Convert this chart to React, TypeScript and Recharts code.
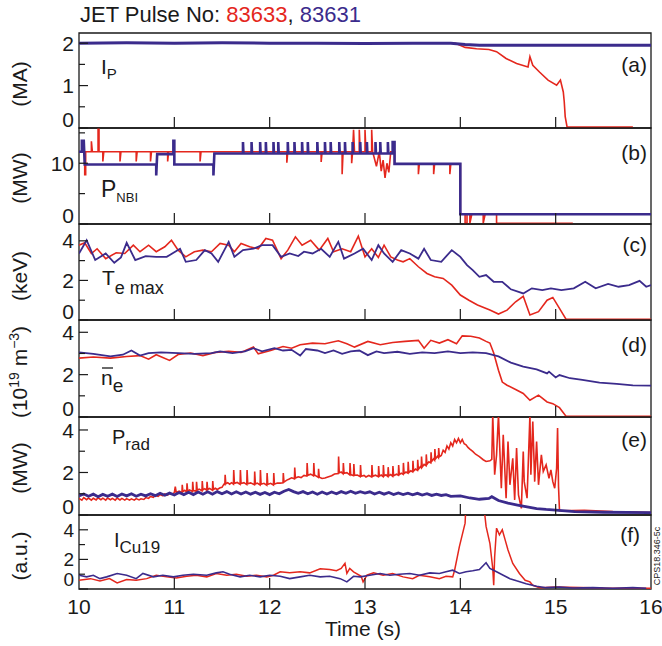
import React from 'react';
import { LineChart, Line, XAxis, YAxis, ReferenceArea } from 'recharts';

const RED = '#e4271d';
const BLUE = '#3b2b8c';
const INK = '#1a1a1a';
const FONT = '"Liberation Sans", Arial, Helvetica, sans-serif';

type Pt = [number, number];

const timeTicks = [10, 11, 12, 13, 14, 15, 16];

// (a) plasma current, MA
const ipRed: Pt[] = [
  [10, 2.0], [11, 2.0], [12, 2.0], [13, 2.0], [13.95, 2.0], [14.05, 1.9], [14.17, 1.87], [14.3, 1.85],
  [14.38, 1.8], [14.48, 1.64], [14.59, 1.52], [14.71, 1.44], [14.73, 1.68], [14.76, 1.48], [14.83, 1.32],
  [14.92, 1.13], [15.01, 1.01], [15.05, 1.13], [15.08, 0.85], [15.09, 0.62], [15.1, 0.27], [15.12, 0.02],
  [15.81, 0.02],
];
const ipBlue: Pt[] = [
  [10, 2.0], [10.5, 2.01], [11, 2.0], [11.5, 2.01], [12, 2.0], [12.5, 2.0], [13, 1.99], [13.5, 2.0],
  [13.9, 2.0], [14.05, 1.97], [14.2, 1.95], [14.5, 1.95], [15, 1.95], [15.5, 1.95], [16, 1.95],
];

// (b) neutral beam power, MW
const nbiRed: Pt[] = [
  [10, 11.9], [10.06, 11.9], [10.06, 8.1], [10.07, 8.1], [10.07, 11.9], [10.13, 11.9], [10.13, 13.6],
  [10.14, 11.9], [10.2, 11.9], [10.2, 15.6], [10.21, 15.6], [10.21, 11.9], [10.25, 11.9], [10.25, 10.3],
  [10.26, 11.9], [10.43, 11.9], [10.43, 10.3], [10.44, 11.9], [10.6, 11.9], [10.6, 10.3], [10.61, 11.9],
  [10.75, 11.9], [10.75, 10.3], [10.76, 11.9], [10.93, 11.9], [10.93, 10.3], [10.94, 11.9],
  [11.27, 11.9], [11.27, 10.3], [11.28, 11.9], [12.18, 11.9], [12.18, 10.1], [12.19, 11.9],
  [12.54, 11.9], [12.54, 10.2], [12.55, 11.9], [12.76, 11.9], [12.76, 8.2], [12.77, 11.9],
  [12.86, 11.9], [12.86, 10.0], [12.87, 11.9], [12.88, 15.5], [12.89, 11.9], [12.94, 11.9],
  [12.94, 15.5], [12.95, 11.9], [13.0, 11.9], [13.0, 15.5], [13.01, 11.9], [13.07, 11.9],
  [13.07, 15.5], [13.08, 11.9], [13.12, 9.5], [13.15, 11.9], [13.17, 8.7], [13.19, 10.5],
  [13.21, 7.6], [13.23, 10.0], [13.25, 8.5], [13.27, 11.9], [13.31, 11.9], [13.31, 9.9],
  [13.56, 9.9], [13.56, 8.2], [13.57, 9.9], [13.72, 9.9], [13.72, 8.2], [13.73, 9.9], [13.89, 9.9],
  [13.89, 8.2], [13.9, 9.9], [14.0, 9.9], [14.0, 1.6], [14.05, 1.6], [14.05, 0.1], [14.07, 0.1],
  [14.07, 1.6], [14.1, 1.6], [14.1, 0.1], [14.12, 1.6], [14.24, 1.6], [14.24, 0.1], [14.26, 1.6],
  [14.38, 1.6], [14.38, 0.1], [15.18, 0.1],
];
const nbiBlue: Pt[] = [
  [10, 11.9], [10.03, 11.9], [10.03, 13.7], [10.05, 13.7], [10.06, 9.8], [10.81, 9.8], [10.81, 8.0],
  [10.82, 11.5], [10.99, 11.5], [10.99, 13.7], [11.0, 13.7], [11.0, 9.8], [11.41, 9.8], [11.41, 8.0],
  [11.42, 11.6], [11.72, 11.6], [11.72, 13.5], [11.725, 11.6], [11.81, 11.6], [11.81, 13.5],
  [11.815, 11.6], [11.9, 11.6], [11.9, 13.5], [11.905, 11.6], [11.96, 11.6], [11.96, 13.5],
  [11.965, 11.6], [12.04, 11.6], [12.04, 13.5], [12.045, 11.6], [12.09, 11.6], [12.09, 13.5],
  [12.095, 11.6], [12.19, 11.6], [12.19, 13.5], [12.195, 11.6], [12.26, 11.6], [12.26, 13.5],
  [12.265, 11.6], [12.34, 11.6], [12.34, 13.5], [12.345, 11.6], [12.4, 11.6], [12.4, 13.5],
  [12.405, 11.6], [12.5, 11.6], [12.5, 13.5], [12.505, 11.6], [12.58, 11.6], [12.58, 13.5],
  [12.585, 11.6], [12.64, 11.6], [12.64, 13.5], [12.645, 11.6], [12.73, 11.6], [12.73, 13.5],
  [12.735, 11.6], [12.79, 11.6], [12.79, 13.5], [12.795, 11.6], [12.87, 11.6], [12.87, 13.5],
  [12.875, 11.6], [12.95, 11.6], [12.95, 13.5], [12.955, 11.6], [13.02, 11.6], [13.02, 13.5],
  [13.025, 11.6], [13.11, 11.6], [13.11, 13.5], [13.115, 11.6], [13.16, 11.6], [13.16, 13.5],
  [13.165, 11.6], [13.24, 11.6], [13.24, 13.5], [13.245, 11.6], [13.29, 11.6], [13.29, 13.5],
  [13.31, 13.5], [13.31, 9.9], [14.0, 9.9], [14.0, 1.6], [16, 1.6],
];

// (c) peak electron temperature, keV
const teRed: Pt[] = [
  [10.0, 3.78], [10.06, 3.9], [10.13, 3.36], [10.19, 3.6], [10.28, 3.1], [10.39, 3.4], [10.48, 3.36],
  [10.57, 3.78], [10.64, 3.45], [10.73, 3.78], [10.81, 3.45], [10.9, 3.7], [10.97, 4.03], [11.04, 3.53],
  [11.12, 3.19], [11.21, 3.45], [11.3, 3.53], [11.39, 3.45], [11.48, 3.87], [11.57, 3.78], [11.63, 3.45],
  [11.7, 3.87], [11.79, 3.7], [11.88, 3.6], [11.96, 4.12], [12.03, 4.03], [12.12, 3.1], [12.19, 3.53],
  [12.27, 4.2], [12.34, 3.78], [12.43, 4.03], [12.52, 3.53], [12.61, 4.12], [12.67, 3.45], [12.76, 3.6],
  [12.85, 3.45], [12.93, 4.24], [13.0, 3.19], [13.07, 3.6], [13.14, 3.16], [13.2, 3.78], [13.27, 3.19],
  [13.34, 3.03], [13.4, 2.94], [13.47, 3.1], [13.56, 2.69], [13.65, 2.35], [13.73, 2.18], [13.82, 2.1],
  [13.91, 1.76], [14.0, 1.26], [14.09, 1.0], [14.18, 0.76], [14.31, 0.5], [14.4, 0.3], [14.49, 0.5],
  [14.58, 0.92], [14.66, 1.2], [14.73, 0.25], [14.82, 0.42], [14.91, 1.0], [14.97, 1.14], [15.04, 0.59],
  [15.11, 0.03], [16, 0.03],
];
const teBlue: Pt[] = [
  [10.0, 3.36], [10.08, 4.03], [10.17, 3.03], [10.28, 3.36], [10.37, 2.89], [10.44, 3.16], [10.5, 3.9],
  [10.59, 3.03], [10.7, 3.23], [10.81, 3.19], [10.92, 3.19], [11.06, 3.6], [11.12, 2.94], [11.23, 3.03],
  [11.32, 3.53], [11.39, 3.36], [11.46, 2.94], [11.57, 3.95], [11.63, 3.19], [11.72, 3.53], [11.83, 3.6],
  [11.92, 3.78], [12.03, 3.78], [12.12, 3.19], [12.21, 3.36], [12.3, 3.23], [12.36, 3.45], [12.45, 3.36],
  [12.54, 3.6], [12.63, 3.19], [12.72, 3.95], [12.78, 3.1], [12.89, 3.36], [12.98, 3.6], [13.07, 3.03],
  [13.14, 3.78], [13.2, 3.36], [13.29, 2.94], [13.38, 3.53], [13.47, 3.36], [13.56, 3.1], [13.62, 3.6],
  [13.69, 3.03], [13.8, 2.94], [13.91, 3.53], [14.0, 3.19], [14.07, 2.77], [14.13, 2.52], [14.2, 2.18],
  [14.27, 2.27], [14.35, 1.93], [14.44, 1.93], [14.53, 1.55], [14.66, 1.34], [14.75, 1.6], [14.86, 1.51],
  [14.95, 1.6], [15.06, 1.51], [15.19, 1.6], [15.31, 1.93], [15.42, 1.6], [15.55, 1.82], [15.66, 1.68],
  [15.77, 1.76], [15.88, 1.98], [15.95, 1.68], [16.0, 1.76],
];

// (d) line-averaged density, 10^19 m^-3
const neRed: Pt[] = [
  [10.0, 2.78], [10.15, 2.83], [10.33, 2.78], [10.5, 2.86], [10.64, 2.9], [10.73, 2.73], [10.81, 2.94],
  [10.95, 2.67], [11.04, 2.95], [11.17, 3.02], [11.3, 2.9], [11.43, 3.05], [11.57, 3.1], [11.7, 3.05],
  [11.83, 3.3], [11.88, 2.98], [12.01, 3.14], [12.14, 3.33], [12.23, 3.25], [12.32, 3.41], [12.45, 3.49],
  [12.58, 3.46], [12.72, 3.6], [12.81, 3.46], [12.89, 3.3], [13.03, 3.57], [13.16, 3.41], [13.29, 3.52],
  [13.42, 3.57], [13.56, 3.62], [13.62, 3.25], [13.69, 3.62], [13.78, 3.49], [13.87, 3.65], [13.96, 3.46],
  [14.02, 3.83], [14.11, 3.81], [14.2, 3.73], [14.27, 3.57], [14.31, 3.49], [14.35, 3.02], [14.4, 2.21],
  [14.44, 1.65], [14.49, 1.5], [14.58, 1.3], [14.66, 1.11], [14.73, 0.79], [14.82, 1.03], [14.91, 0.71],
  [14.97, 0.63], [15.04, 0.44], [15.11, 0.03], [16, 0.03],
];
const neBlue: Pt[] = [
  [10.0, 3.05], [10.15, 2.98], [10.33, 2.86], [10.46, 2.94], [10.55, 3.14], [10.64, 2.9], [10.73, 3.02],
  [10.86, 3.05], [11.04, 3.02], [11.21, 2.98], [11.39, 3.02], [11.48, 3.1], [11.61, 3.02], [11.74, 3.1],
  [11.83, 3.25], [11.92, 3.1], [12.05, 3.25], [12.14, 3.14], [12.23, 3.17], [12.32, 2.9], [12.38, 3.21],
  [12.5, 3.14], [12.58, 3.02], [12.67, 3.14], [12.76, 2.98], [12.85, 3.1], [12.94, 3.14], [13.03, 2.92],
  [13.12, 3.1], [13.2, 3.02], [13.34, 3.08], [13.47, 2.98], [13.6, 3.05], [13.73, 3.02], [13.87, 3.1],
  [14.0, 3.02], [14.13, 3.05], [14.27, 3.02], [14.4, 2.86], [14.53, 2.57], [14.66, 2.38], [14.8, 2.25],
  [14.91, 2.06], [14.93, 2.14], [15.0, 1.87], [15.04, 1.98], [15.15, 1.83], [15.28, 1.75], [15.46, 1.62],
  [15.64, 1.56], [15.81, 1.49], [16.0, 1.48],
];

// (e) radiated power, MW
const pradRed: Pt[] = [
  [10.0, 0.78], [10.03, 0.7], [10.05, 0.82], [10.08, 0.72], [10.1, 0.8], [10.13, 0.7], [10.15, 0.79],
  [10.18, 0.71], [10.2, 0.81], [10.23, 0.72], [10.25, 0.79], [10.28, 0.7], [10.3, 0.8], [10.33, 0.72],
  [10.35, 0.78], [10.38, 0.7], [10.4, 0.8], [10.43, 0.71], [10.45, 0.78], [10.48, 0.7], [10.5, 0.77],
  [10.53, 0.7], [10.55, 0.76], [10.58, 0.7], [10.6, 0.77], [10.63, 0.71], [10.65, 0.76], [10.68, 0.73],
  [10.7, 0.82], [10.73, 0.78], [10.75, 0.87], [10.78, 0.83], [10.8, 0.92], [10.83, 0.88], [10.85, 0.96],
  [10.88, 0.9], [10.9, 0.99], [10.93, 0.94], [10.95, 1.03], [10.98, 0.98], [11.0, 1.05],
  [11.01, 1.34], [11.02, 1.06], [11.05, 1.12], [11.08, 1.06], [11.083, 1.42], [11.09, 1.1], [11.11, 1.16],
  [11.13, 1.08], [11.133, 1.49], [11.14, 1.12], [11.16, 1.18], [11.19, 1.1], [11.193, 1.56], [11.2, 1.15],
  [11.23, 1.12], [11.233, 1.56], [11.24, 1.17], [11.26, 1.22], [11.29, 1.14], [11.293, 1.6], [11.3, 1.18],
  [11.32, 1.24], [11.34, 1.16], [11.343, 1.56], [11.35, 1.2], [11.37, 1.25], [11.4, 1.16], [11.403, 1.6],
  [11.41, 1.2], [11.43, 1.26], [11.45, 1.2], [11.48, 1.28], [11.5, 1.3], [11.52, 1.45], [11.53, 1.43],
  [11.533, 1.89], [11.54, 1.47], [11.56, 1.52], [11.58, 1.45], [11.6, 1.52], [11.62, 1.45],
  [11.623, 2.12], [11.63, 1.49], [11.66, 1.53], [11.69, 1.44], [11.693, 2.12], [11.7, 1.48], [11.73, 1.52],
  [11.76, 1.43], [11.763, 2.12], [11.77, 1.47], [11.8, 1.51], [11.84, 1.42], [11.843, 2.04], [11.85, 1.46],
  [11.87, 1.5], [11.9, 1.41], [11.903, 2.12], [11.91, 1.45], [11.94, 1.49], [11.97, 1.4], [11.973, 1.97],
  [11.98, 1.44], [12.01, 1.49], [12.04, 1.41], [12.043, 1.97], [12.05, 1.45], [12.08, 1.5], [12.11, 1.5],
  [12.14, 1.52], [12.143, 1.97], [12.15, 1.55], [12.18, 1.64], [12.2, 1.68], [12.23, 1.75], [12.26, 1.7],
  [12.263, 2.23], [12.27, 1.74], [12.3, 1.8], [12.33, 1.76], [12.36, 1.86], [12.39, 1.83], [12.393, 2.44],
  [12.4, 1.87], [12.43, 1.92], [12.46, 1.84], [12.463, 2.44], [12.47, 1.88], [12.49, 1.83], [12.51, 1.77],
  [12.513, 2.17], [12.52, 1.78], [12.55, 1.72], [12.58, 1.74], [12.61, 1.79], [12.65, 1.85], [12.68, 1.93],
  [12.72, 1.95], [12.723, 2.75], [12.73, 1.98], [12.75, 2.02], [12.77, 1.94], [12.773, 2.44], [12.78, 1.96],
  [12.81, 1.99], [12.84, 1.89], [12.843, 2.44], [12.85, 1.9], [12.88, 1.85], [12.883, 2.4], [12.89, 1.87],
  [12.92, 1.88], [12.95, 1.8], [12.953, 2.35], [12.96, 1.82], [12.99, 1.86], [13.01, 1.79], [13.04, 1.86],
  [13.07, 1.79], [13.073, 2.35], [13.08, 1.82], [13.11, 1.87], [13.14, 1.8], [13.143, 2.3], [13.15, 1.83],
  [13.17, 1.88], [13.19, 1.81], [13.193, 2.35], [13.2, 1.84], [13.22, 1.89], [13.24, 1.81], [13.243, 2.25],
  [13.25, 1.84], [13.27, 1.9], [13.29, 1.82], [13.293, 2.3], [13.3, 1.85], [13.33, 1.92], [13.35, 1.87],
  [13.353, 2.35], [13.36, 1.9], [13.38, 1.97], [13.4, 1.91], [13.403, 2.45], [13.41, 1.95], [13.43, 2.02],
  [13.45, 1.97], [13.453, 2.5], [13.46, 2.0], [13.48, 2.08], [13.5, 2.03], [13.503, 2.55], [13.51, 2.07],
  [13.53, 2.16], [13.55, 2.1], [13.553, 2.6], [13.56, 2.15], [13.58, 2.27], [13.59, 2.22], [13.593, 2.75],
  [13.6, 2.26], [13.62, 2.38], [13.64, 2.32], [13.643, 2.85], [13.65, 2.38], [13.67, 2.5], [13.69, 2.45],
  [13.693, 2.95], [13.7, 2.52], [13.72, 2.64], [13.73, 2.58], [13.733, 3.1], [13.74, 2.64], [13.76, 2.76],
  [13.77, 2.7], [13.773, 3.15], [13.78, 2.74], [13.8, 2.8], [13.82, 3.05], [13.84, 2.95], [13.86, 3.25],
  [13.88, 3.1], [13.9, 3.4], [13.92, 3.25], [13.94, 3.55], [13.96, 3.4], [13.98, 3.6], [14.0, 3.4],
  [14.02, 3.55], [14.04, 3.35], [14.06, 3.3], [14.08, 3.18], [14.1, 3.1], [14.13, 2.99], [14.16, 2.86],
  [14.2, 2.75], [14.24, 2.6], [14.27, 2.52], [14.31, 2.55], [14.33, 2.62], [14.34, 4.7], [14.36, 1.9],
  [14.38, 2.83], [14.4, 4.7], [14.43, 1.26], [14.45, 3.77], [14.48, 0.79], [14.5, 3.46], [14.52, 1.42],
  [14.55, 2.67], [14.57, 0.71], [14.59, 3.15], [14.61, 0.94], [14.64, 0.31], [14.66, 2.99], [14.67, 1.57],
  [14.7, 0.79], [14.73, 4.7], [14.74, 1.89], [14.76, 4.4], [14.78, 1.57], [14.8, 3.46], [14.82, 1.42],
  [14.85, 2.83], [14.87, 2.05], [14.9, 2.36], [14.93, 1.73], [14.95, 2.12], [14.97, 1.57], [14.99, 1.26],
  [15.01, 2.2], [15.02, 4.09], [15.03, 1.34], [15.04, 0.2], [15.3, 0.22], [15.6, 0.16], [16.0, 0.12],
];
const pradBlue: Pt[] = [
  [10.0, 0.9], [10.05, 0.99], [10.1, 0.88], [10.15, 0.98], [10.2, 0.86], [10.25, 0.97], [10.3, 0.88],
  [10.35, 0.98], [10.4, 0.87], [10.45, 0.99], [10.5, 0.9], [10.55, 1.0], [10.6, 0.88], [10.65, 0.98],
  [10.7, 0.9], [10.75, 1.0], [10.8, 0.91], [10.85, 1.02], [10.9, 0.93], [10.95, 1.03], [11.0, 0.94],
  [11.05, 1.06], [11.1, 0.96], [11.15, 1.07], [11.2, 0.96], [11.25, 1.08], [11.3, 0.98], [11.35, 1.09],
  [11.4, 0.98], [11.45, 1.1], [11.5, 1.0], [11.55, 1.1], [11.6, 0.99], [11.65, 1.09], [11.7, 0.99],
  [11.75, 1.08], [11.8, 0.98], [11.85, 1.07], [11.9, 0.97], [11.95, 1.06], [12.0, 0.96], [12.05, 1.07],
  [12.1, 1.0], [12.15, 1.12], [12.2, 1.2], [12.25, 1.1], [12.3, 1.02], [12.35, 1.1], [12.4, 1.0],
  [12.45, 1.08], [12.5, 0.98], [12.55, 1.08], [12.6, 0.99], [12.65, 1.08], [12.7, 1.0], [12.75, 1.1],
  [12.8, 1.02], [12.85, 1.12], [12.9, 1.02], [12.95, 1.1], [13.0, 1.03], [13.05, 1.09], [13.1, 0.99],
  [13.15, 1.07], [13.2, 0.98], [13.25, 1.06], [13.3, 0.96], [13.35, 1.04], [13.4, 0.96], [13.45, 1.03],
  [13.5, 0.95], [13.55, 1.02], [13.6, 0.94], [13.65, 1.0], [13.7, 0.92], [13.75, 0.98], [13.8, 0.92],
  [13.85, 0.96], [13.9, 0.88], [14.0, 0.9], [14.1, 0.8], [14.2, 0.74], [14.3, 0.78], [14.33, 0.86],
  [14.4, 0.68], [14.5, 0.56], [14.6, 0.47], [14.7, 0.38], [14.8, 0.3], [14.9, 0.26], [15.0, 0.23],
  [15.2, 0.16], [15.5, 0.13], [16.0, 0.11],
];

// (f) Cu XIX line intensity, a.u.
const cuRed: Pt[] = [
  [10.0, 0.59], [10.12, 0.7], [10.22, 0.55], [10.32, 0.7], [10.4, 0.41], [10.5, 0.64], [10.6, 0.59],
  [10.71, 0.7], [10.81, 0.93], [10.92, 0.82], [11.02, 0.75], [11.13, 0.86], [11.23, 0.93], [11.34, 0.82],
  [11.44, 1.05], [11.55, 0.93], [11.65, 1.0], [11.76, 0.86], [11.86, 0.93], [11.97, 0.82], [12.04, 0.93],
  [12.11, 1.16], [12.21, 1.09], [12.32, 1.16], [12.42, 1.09], [12.53, 1.36], [12.63, 1.32], [12.7, 1.23],
  [12.75, 1.39], [12.79, 1.73], [12.81, 1.05], [12.84, 1.39], [12.88, 1.16], [12.96, 0.86], [12.98, 0.48],
  [13.02, 0.93], [13.09, 1.09], [13.19, 0.93], [13.29, 1.05], [13.4, 0.82], [13.5, 0.7], [13.57, 0.93],
  [13.68, 0.82], [13.78, 0.7], [13.85, 0.86], [13.92, 0.82], [13.94, 1.27], [13.99, 2.86], [14.05, 4.45],
  [14.06, 6.0], [14.24, 6.0], [14.27, 4.23], [14.31, 3.09], [14.34, 1.39], [14.35, 0.25], [14.36, 2.18],
  [14.38, 4.11], [14.41, 3.66], [14.44, 4.0], [14.47, 3.32], [14.5, 2.64], [14.55, 1.73], [14.62, 1.05],
  [14.68, 0.59], [14.73, 0.48], [14.76, 0.25], [14.83, 0.09], [15.01, 0.14], [15.5, 0.06], [16.0, 0.05],
];
const cuBlue: Pt[] = [
  [10.0, 0.93], [10.08, 0.82], [10.15, 0.93], [10.22, 0.7], [10.29, 0.82], [10.4, 1.05], [10.5, 0.93],
  [10.6, 0.7], [10.67, 1.05], [10.78, 0.82], [10.88, 0.93], [10.99, 0.82], [11.09, 0.93], [11.2, 1.0],
  [11.34, 0.93], [11.44, 1.09], [11.51, 1.16], [11.58, 1.0], [11.69, 0.82], [11.79, 0.93], [11.9, 0.82],
  [12.0, 0.93], [12.11, 0.86], [12.21, 0.7], [12.32, 0.82], [12.42, 0.93], [12.53, 0.82], [12.63, 0.86],
  [12.74, 0.7], [12.81, 0.48], [12.88, 0.86], [12.95, 0.82], [13.05, 0.93], [13.16, 1.05], [13.26, 0.93],
  [13.36, 1.0], [13.47, 1.05], [13.57, 0.93], [13.68, 1.09], [13.78, 1.05], [13.85, 1.16], [13.92, 1.27],
  [13.99, 1.05], [14.06, 1.16], [14.13, 1.23], [14.2, 1.32], [14.27, 1.77], [14.31, 1.39], [14.38, 1.16],
  [14.45, 0.93], [14.52, 0.7], [14.59, 0.55], [14.69, 0.36], [14.8, 0.18], [14.9, 0.09], [15.04, 0.14],
  [15.18, 0.07], [15.39, 0.09], [15.6, 0.05], [15.81, 0.09], [15.95, 0.05],
];

const rows = (pts: Pt[]) => pts.map(([t, v]) => ({ t, v }));

function TimeTick(props: any) {
  const { x, y, payload, showLabel } = props;
  const v = payload.value;
  return (
    <g>
      {v !== 10 && v !== 16 && (
        <line x1={x} x2={x} y1={y} y2={y - 11} stroke={INK} strokeWidth={1.2} />
      )}
      {showLabel && (
        <text x={x} y={y + 25} textAnchor="middle" fontSize={21} fontFamily={FONT} fill={INK}>
          {v}
        </text>
      )}
    </g>
  );
}

function ValueTick(props: any) {
  const { x, y, payload, major, size } = props;
  const v = payload.value;
  const isMajor = major.includes(v);
  const fs = size || 21;
  return (
    <g>
      <line x1={x} x2={x + (isMajor ? 9 : 6)} y1={y} y2={y} stroke={INK} strokeWidth={1.2} />
      {isMajor && (
        <text x={x - 5} y={v === 0 ? y - 1 - (21 - fs) : y + fs * 0.36} textAnchor="end" fontSize={fs} fontFamily={FONT} fill={INK}>
          {v}
        </text>
      )}
    </g>
  );
}

interface PanelProps {
  top: number;
  bottom: number;
  yMax: number;
  yTicks: number[];
  yMajor: number[];
  red: Pt[];
  blue: Pt[];
  redW: number;
  blueW: number;
  labelSize?: number;
  showTime?: boolean;
}

function Panel({ top, bottom, yMax, yTicks, yMajor, red, blue, redW, blueW, labelSize, showTime }: PanelProps) {
  const pad = 12;
  const mb = showTime ? 50 : pad;
  return (
    <div style={{ position: 'absolute', left: 0, top: top - pad }}>
      <LineChart
        width={662}
        height={bottom - top + pad + mb}
        margin={{ top: pad, right: 11, bottom: mb - 1, left: 78 }}
      >
        <XAxis
          dataKey="t"
          type="number"
          domain={[10, 16]}
          ticks={timeTicks}
          interval={0}
          height={1}
          axisLine={false}
          tickLine={false}
          tickSize={0}
          tickMargin={0}
          allowDataOverflow
          tick={<TimeTick showLabel={!!showTime} />}
        />
        <YAxis
          type="number"
          domain={[0, yMax]}
          ticks={yTicks}
          interval={0}
          width={1}
          axisLine={false}
          tickLine={false}
          tickSize={0}
          tickMargin={0}
          allowDataOverflow
          tick={<ValueTick major={yMajor} size={labelSize} />}
        />
        <Line data={rows(red)} dataKey="v" type="linear" stroke={RED} strokeWidth={redW} dot={false} isAnimationActive={false} />
        <Line data={rows(blue)} dataKey="v" type="linear" stroke={BLUE} strokeWidth={blueW} dot={false} isAnimationActive={false} />
        <ReferenceArea x1={10} x2={16} y1={0} y2={yMax} fill="none" stroke={INK} strokeWidth={1.3} />
      </LineChart>
    </div>
  );
}

const txt = { fontFamily: FONT, fill: INK } as const;

export default function App() {
  return (
    <div style={{ position: 'absolute', left: 0, top: 0, width: 662, height: 646, background: '#fff' }}>
      <Panel top={33} bottom={128} yMax={2.24} yTicks={[0, 0.5, 1, 1.5, 2]} yMajor={[0, 1, 2]} red={ipRed} blue={ipBlue} redW={1.6} blueW={3} />
      <Panel top={128} bottom={224} yMax={15.8} yTicks={[0, 5, 10, 15]} yMajor={[0, 10]} red={nbiRed} blue={nbiBlue} redW={1.6} blueW={2.6} />
      <Panel top={224} bottom={320} yMax={4.85} yTicks={[0, 1, 2, 3, 4]} yMajor={[0, 2, 4]} red={teRed} blue={teBlue} redW={1.6} blueW={1.8} />
      <Panel top={320} bottom={417} yMax={4.58} yTicks={[0, 1, 2, 3, 4]} yMajor={[0, 2, 4]} red={neRed} blue={neBlue} redW={1.6} blueW={1.8} />
      <Panel top={417} bottom={515} yMax={4.61} yTicks={[0, 1, 2, 3, 4]} yMajor={[0, 2, 4]} red={pradRed} blue={pradBlue} redW={1.6} blueW={2.8} />
      <Panel top={515} bottom={589} yMax={5.0} yTicks={[0, 1, 2, 3, 4]} yMajor={[0, 2, 4]} red={cuRed} blue={cuBlue} redW={1.5} blueW={1.6} labelSize={19} showTime />

      <svg width={662} height={646} style={{ position: 'absolute', left: 0, top: 0, pointerEvents: 'none' }}>
        <text x={80} y={22} fontSize={22} {...txt}>
          JET Pulse No: <tspan fill={RED}>83633</tspan>, <tspan fill={BLUE}>83631</tspan>
        </text>

        <text transform="translate(27,84) rotate(-90)" textAnchor="middle" fontSize={21} {...txt}>(MA)</text>
        <text transform="translate(27,178) rotate(-90)" textAnchor="middle" fontSize={21} {...txt}>(MW)</text>
        <text transform="translate(27,276) rotate(-90)" textAnchor="middle" fontSize={21} {...txt}>(keV)</text>
        <text transform="translate(27,372) rotate(-90)" textAnchor="middle" fontSize={21} {...txt}>
          (10<tspan dy={-8} fontSize={14}>19</tspan><tspan dy={8}> m</tspan><tspan dy={-8} fontSize={14}>−3</tspan><tspan dy={8}>)</tspan>
        </text>
        <text transform="translate(27,468) rotate(-90)" textAnchor="middle" fontSize={21} {...txt}>(MW)</text>
        <text transform="translate(27,556) rotate(-90)" textAnchor="middle" fontSize={21} {...txt}>(a.u.)</text>

        <text x={647} y={72} textAnchor="end" fontSize={21} {...txt}>(a)</text>
        <text x={647} y={160} textAnchor="end" fontSize={21} {...txt}>(b)</text>
        <text x={647} y={252} textAnchor="end" fontSize={21} {...txt}>(c)</text>
        <text x={647} y={352} textAnchor="end" fontSize={21} {...txt}>(d)</text>
        <text x={647} y={447} textAnchor="end" fontSize={21} {...txt}>(e)</text>
        <text x={640} y={542} textAnchor="end" fontSize={21} {...txt}>(f)</text>

        <text x={101} y={74} fontSize={21} {...txt}>I<tspan dy={5} fontSize={15}>P</tspan></text>
        <text x={101} y={197} fontSize={23} {...txt}>P<tspan dy={5} fontSize={13}>NBI</tspan></text>
        <text x={102} y={285} fontSize={21} {...txt}>T<tspan dy={9} fontSize={18}>e max</tspan></text>
        <line x1={102} x2={113} y1={368} y2={368} stroke={INK} strokeWidth={1.3} />
        <text x={101} y={385} fontSize={21} {...txt}>n<tspan dy={7} fontSize={19}>e</tspan></text>
        <text x={112} y={444} fontSize={20} {...txt}>P<tspan dy={6} fontSize={17}>rad</tspan></text>
        <text x={114} y={547} fontSize={20} {...txt}>I<tspan dy={6} fontSize={17}>Cu19</tspan></text>

        <text x={363} y={636} textAnchor="middle" fontSize={21} {...txt}>Time (s)</text>
        <text transform="translate(660,556) rotate(-90)" textAnchor="middle" fontSize={9} {...txt}>CPS18.346-5c</text>
      </svg>
    </div>
  );
}
